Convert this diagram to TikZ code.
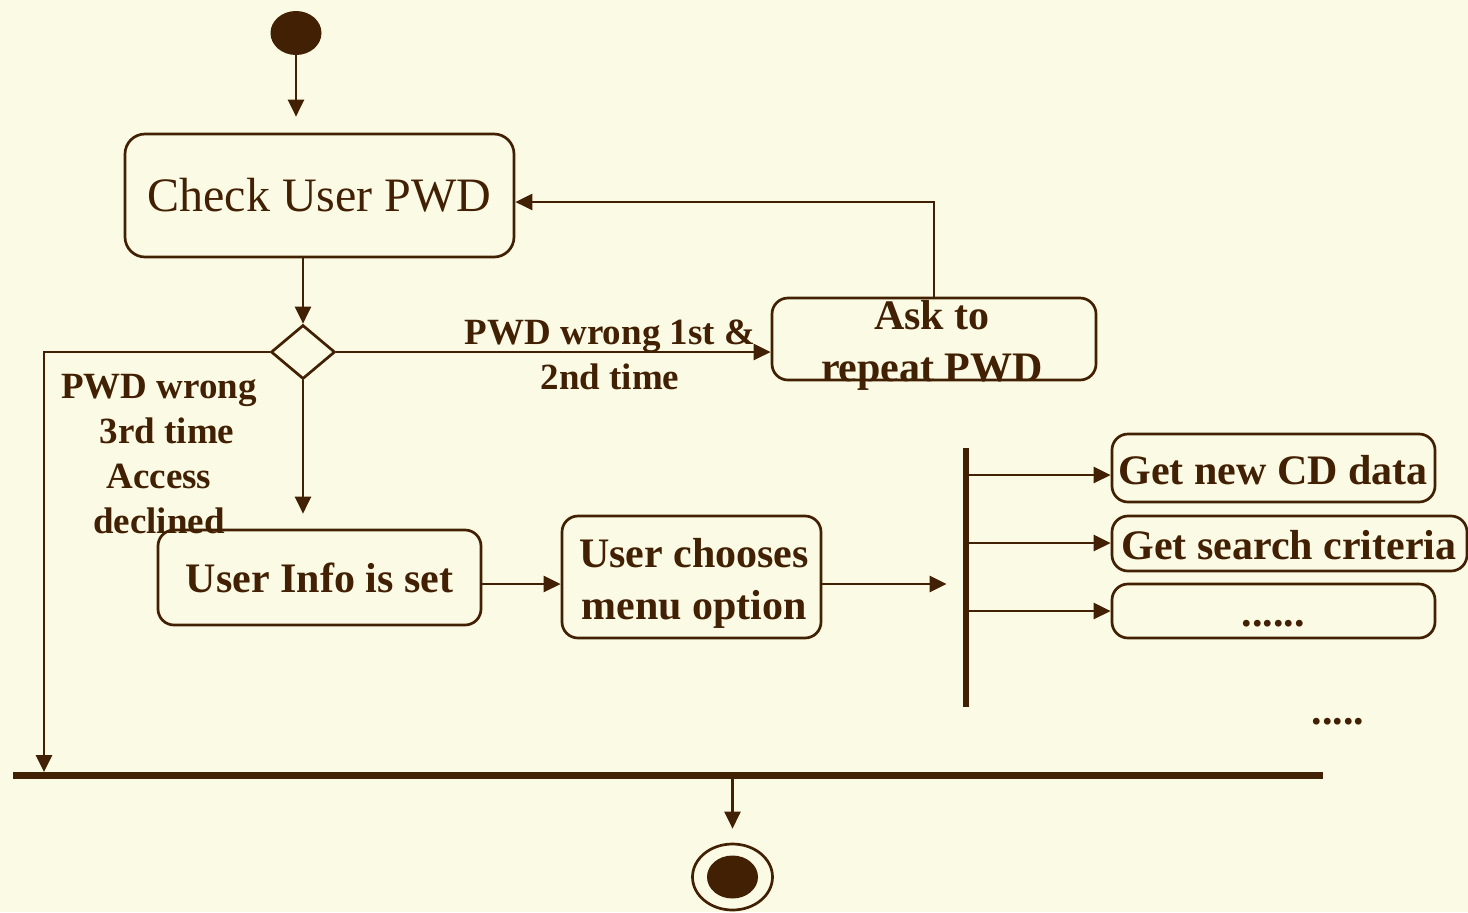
\documentclass[tikz,border=0pt]{standalone}
\usepackage{fontspec}
\setmainfont{Liberation Serif}
\usetikzlibrary{arrows.meta,shapes.geometric}
\definecolor{ink}{RGB}{66,32,4}
\definecolor{paper}{RGB}{251,250,228}
\begin{document}
\begin{tikzpicture}[x=0.5pt,y=-0.5pt,
  every node/.style={text=ink},
  line/.style={draw=ink,line width=1.35pt},
  arr/.style={line,-{Triangle[length=8.5pt,width=8pt]}},
  act/.style={draw=ink,line width=1.35pt,rounded corners=8pt,rectangle,inner sep=0pt},
  lbl/.style={font=\bfseries\fontsize{18.5}{22.5}\selectfont,align=center},
  big/.style={font=\bfseries\fontsize{21}{26}\selectfont,align=center},
  bar/.style={fill=ink,rectangle,inner sep=0pt},
]
% page
\fill[paper] (0,0) rectangle (1468,912);
\useasboundingbox (0,0) rectangle (1468,912);

% initial and final states
\node[ellipse,fill=ink,minimum width=25.5pt,minimum height=22pt,inner sep=0pt] (start) at (296,33) {};
\node[ellipse,draw=ink,line width=1.35pt,minimum width=40pt,minimum height=33pt,inner sep=0pt] (final) at (732.5,877) {};
\node[ellipse,fill=ink,minimum width=25.5pt,minimum height=21.5pt,inner sep=0pt] (finaldot) at (final) {};

% activities
\node[act,rounded corners=10pt,minimum width=194.5pt,minimum height=61.5pt,
      font=\fontsize{24}{28}\selectfont] (check) at (319.5,195.5) {\raisebox{-1pt}{Check User PWD}};
\node[diamond,draw=ink,line width=1.35pt,minimum width=32pt,minimum height=27pt,
      inner sep=0pt,aspect=1.185] (dec) at (303,352) {};
\node[act,minimum width=162pt,minimum height=41pt] (ask) at (934,339) {};
\node[big] (asktxt) at (932,345) {Ask to\\repeat PWD};
\node[act,minimum width=161.5pt,minimum height=47.5pt,big] (info) at (319.5,577.5) {User Info is set};
\node[act,minimum width=129.5pt,minimum height=61pt] (menu) at (691.5,577) {};
\node[big] (menutxt) at (694,583) {User chooses\\menu option};

% fork and join bars
\node[bar,minimum width=3pt,minimum height=129.5pt] (fork) at (966,577.5) {};
\node[bar,minimum width=655pt,minimum height=3.5pt] (join) at (668,775.5) {};

% parallel activities
\node[act,minimum width=161.5pt,minimum height=34pt] (b1) at (1273.5,468) {};
\node[big] (b1txt) at (1273,470) {Get new CD data};
\node[act,minimum width=177.5pt,minimum height=27.5pt] (b2) at (1289.5,543.5) {};
\node[big] (b2txt) at (1289,545) {Get search criteria};
\node[act,minimum width=161.5pt,minimum height=27pt] (b3) at (1273.5,611) {};
\node[big] (b3txt) at (1273,624) {......};
\node[big] (more) at (1338,722) {.....};

% guard labels
\node[lbl] (g1) at (610,355) {PWD wrong 1st \&\\2nd time};
\node[lbl] (g2) at (159,454) {PWD wrong\\\hspace*{8pt}3rd time\\Access\\declined};

% connectors
\coordinate (jl) at (44,772);
\coordinate (loop) at (934,202);
\coordinate (row) at (0,584);
\coordinate (r1) at (0,475);
\coordinate (r2) at (0,543);
\coordinate (r3) at (0,611);

\draw[arr,shorten >=8pt] (start.south) -- (start.south |- check.north);
\draw[arr] (check.south -| dec.north) -- (dec.north);
\draw[arr] (dec.west) -| (jl);
\draw[arr] (dec.east) -- (dec.east -| ask.west);
\draw[arr] (loop |- ask.north) |- (check.east |- loop);
\draw[arr,shorten >=7.5pt] (dec.south) -- (dec.south |- info.north);
\draw[arr] (info.east |- row) -- (menu.west |- row);
\draw[arr,shorten >=8pt] (menu.east |- row) -- (fork.west |- row);
\draw[arr] (fork.east |- r1) -- (b1.west |- r1);
\draw[arr] (fork.east |- r2) -- (b2.west |- r2);
\draw[arr] (fork.east |- r3) -- (b3.west |- r3);
\draw[arr,shorten >=7pt] (join.south -| final) -- (final.north);
\end{tikzpicture}
\end{document}
